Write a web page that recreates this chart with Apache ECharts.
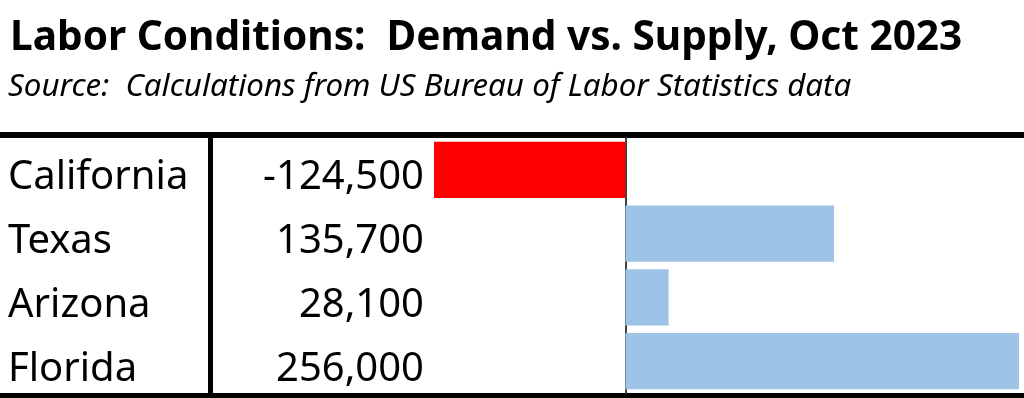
<!DOCTYPE html>
<html>
<head>
<meta charset="utf-8">
<script src="https://cdn.jsdelivr.net/npm/echarts@6/dist/echarts.min.js"></script>
<style>
    html, body { margin: 0; padding: 0; background: #fff; }
    #chart { width: 1024px; height: 398px; }
</style>
</head>
<body>
<div id="chart"></div>
<script>
    var states = ['California', 'Texas', 'Arizona', 'Florida'];
    var gaps = [-124500, 135700, 28100, 256000];
    var valueLabels = ['-124,500', '135,700', '28,100', '256,000'];

    var chartDom = document.getElementById('chart');
    var myChart = echarts.init(chartDom);
    var option;

    var font = '"Noto Sans", sans-serif';

    option = {
        animation: false,
        textStyle: { fontFamily: font },
        title: [
            {
                left: 5,
                top: 13,
                text: 'Labor Conditions:  Demand vs. Supply, Oct 2023',
                textStyle: { fontFamily: font, fontSize: 40.6, fontWeight: 'bold', color: '#000' }
            },
            {
                left: 3,
                top: 67,
                text: 'Source:  Calculations from US Bureau of Labor Statistics data',
                textStyle: { fontFamily: font, fontSize: 31.3, fontStyle: 'italic', fontWeight: 'normal', color: '#000' }
            }
        ],
        grid: {
            left: 434,
            right: 5,
            top: 138,
            bottom: 5
        },
        xAxis: {
            type: 'value',
            min: -124500,
            max: 256000,
            show: false
        },
        yAxis: [
            {
                type: 'category',
                data: states,
                inverse: true,
                axisLine: { onZero: true, lineStyle: { color: '#404040', width: 2 } },
                axisTick: { show: false },
                axisLabel: { show: false }
            },
            {
                type: 'category',
                data: states,
                inverse: true,
                position: 'left',
                axisLine: { show: false, onZero: false },
                axisTick: { show: false },
                axisLabel: {
                    align: 'left',
                    verticalAlign: 'top',
                    lineHeight: 16,
                    margin: 426,
                    fontSize: 40,
                    color: '#000',
                    fontFamily: font
                }
            },
            {
                type: 'category',
                data: states,
                inverse: true,
                position: 'left',
                axisLine: { show: false, onZero: false },
                axisTick: { show: false },
                axisLabel: {
                    align: 'right',
                    verticalAlign: 'top',
                    lineHeight: 16,
                    margin: 10,
                    fontSize: 40,
                    color: '#000',
                    fontFamily: font,
                    formatter: function (v, i) { return valueLabels[i]; }
                }
            }
        ],
        series: [
            {
                type: 'bar',
                yAxisIndex: 0,
                barCategoryGap: '12%',
                data: gaps.map(function (v) {
                    return { value: v, itemStyle: { color: v < 0 ? '#FF0000' : '#9DC3E6' } };
                })
            }
        ],
        graphic: [
            { type: 'rect', shape: { x: 0, y: 132, width: 1024, height: 6 }, style: { fill: '#000' } },
            { type: 'rect', shape: { x: 0, y: 393, width: 1024, height: 5 }, style: { fill: '#000' } },
            { type: 'rect', shape: { x: 208, y: 132, width: 5, height: 266 }, style: { fill: '#000' } }
        ]
    };

    option && myChart.setOption(option);
</script>
</body>
</html>
